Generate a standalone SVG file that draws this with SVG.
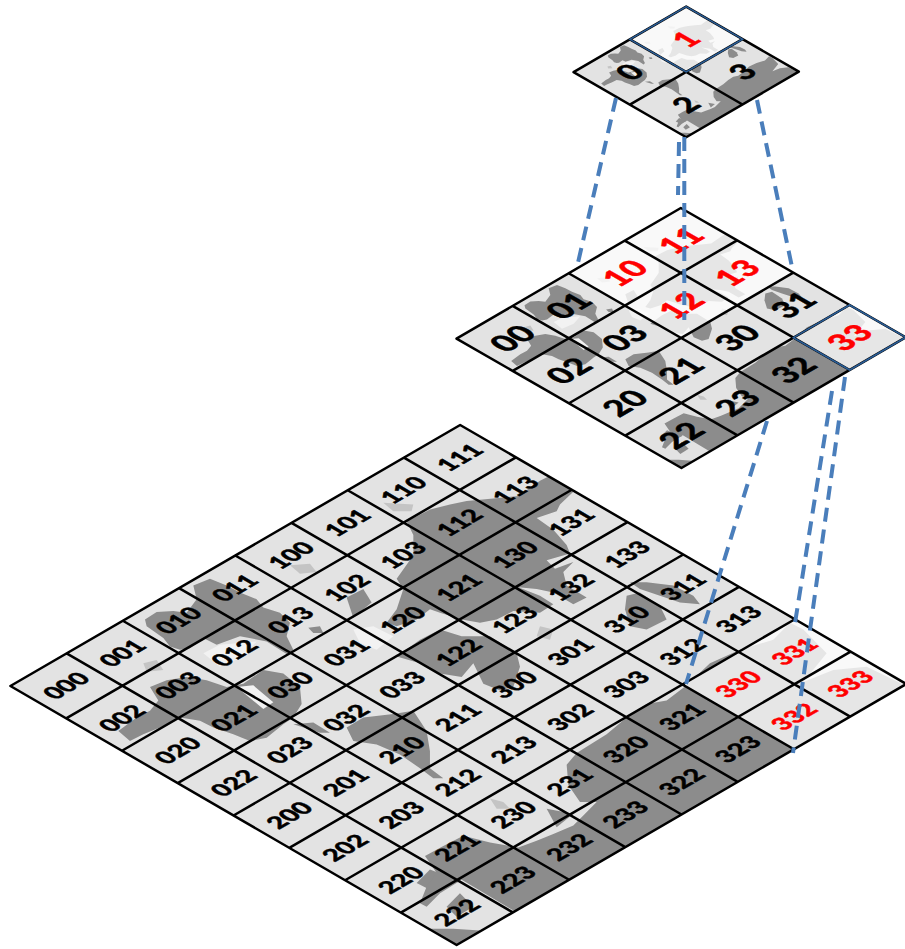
<svg xmlns="http://www.w3.org/2000/svg" width="905" height="949" viewBox="0 0 905 949">
<style>
text{font-family:Lato,"Open Sans","Liberation Sans",sans-serif;font-weight:900;text-anchor:middle;fill:#000;stroke:#000}
text.r{fill:#f00;stroke:#f00}
.l3 text{font-size:37px;stroke-width:.8}
.l2 text{font-size:98px;stroke-width:1.5}
.l1 text{font-size:184px;stroke-width:3}
.bg{fill:#e3e3e3}
.sel{fill:#fff;fill-opacity:.78}
.grid{fill:none;stroke:#000;stroke-width:2.5;vector-effect:non-scaling-stroke;stroke-linejoin:round}
.edge{fill:none;stroke:#2a5d96;stroke-width:1.6;vector-effect:non-scaling-stroke}
.land polygon{fill:#8c8c8c}
.land polygon.w{fill:#f2f2f2}
.land polygon.m{fill:#c4c4c4}
.dash{fill:none;stroke:#4a7ebb;stroke-width:4;stroke-dasharray:14 8}
</style>
<defs>
<clipPath id="clip"><polygon points="10.4,686 460.15,425 906.4,684 456.65,945"/></clipPath>
<g id="land" class="land" clip-path="url(#clip)">
<g transform="matrix(.3333 0 0 .338 0 420)">
<polygon points="580,490 630,470 680,490 720,510 770,530 790,555 840,570 870,600 860,640 880,680 865,695 800,655 720,640 650,665 610,645 570,675 540,680 510,670 490,645 440,610 435,590 470,568 520,565 560,570 590,530"/>
<polygon points="355,920 410,880 450,860 475,830 450,790 500,770 560,760 620,770 680,790 730,780 790,740 850,750 900,790 905,840 880,880 850,900 800,940 750,950 700,930 640,910 600,890 540,880 480,910 430,930 390,950"/>
<polygon class="w" points="710,790 760,785 820,835 790,855"/>
<polygon class="w" points="610,690 660,665 770,655 730,700 660,730"/>
<polygon points="880,900 940,895 990,925 960,925"/>
<polygon points="1040,910 1090,880 1180,870 1240,860 1280,920 1290,980 1290,1030 1330,1060 1300,1060 1260,1030 1200,990 1130,960 1060,950"/>
<polygon points="1040,525 1090,500 1115,540 1060,585"/>
<polygon points="925,615 960,610 970,630 940,630"/>
<polygon class="m" points="870,430 930,425 950,450 900,455"/>
<polygon class="m" points="1150,245 1240,250 1235,270 1180,270"/>
<polygon class="m" points="430,720 470,710 490,740 440,745"/>
<polygon class="w" points="1060,620 1120,610 1180,640 1130,680 1080,660"/>
<polygon points="1250,1370 1290,1330 1380,1365 1300,1395"/>
<polygon points="1300,1300 1380,1255 1380,1330"/>
<polygon points="1340,1440 1380,1400 1420,1440 1370,1470"/>
</g>
<g transform="matrix(.3333 0 0 .338 440 420)">
<polygon points="-130,470 -80,400 -80,340 -100,300 -30,265 30,250 80,240 160,232 235,225 300,180 330,165 400,212 360,250 350,270 290,290 340,325 380,370 390,395 320,415 345,440 400,420 370,450 380,490 440,525 400,545 340,510 290,500 235,495 300,520 340,545 300,570 220,565 170,590 120,600 65,590 0,570 -30,560 -70,590 -130,610 -160,600 -130,560 -110,500"/>
<polygon points="-130,700 -60,650 0,620 65,640 150,640 230,690 240,730 220,790 180,800 130,780 100,720 65,760 0,750 -60,720"/>
<polygon points="570,480 620,480 700,490 760,520 780,545 720,540 660,520 600,500"/>
<polygon points="560,520 600,510 660,550 680,590 620,620 570,610 555,560"/>
<polygon points="740,785 810,720 900,680 1000,650 1050,600 1090,620 1160,690 1090,775 1180,740 1280,730 1395,785 1060,985 400,1360 235,1460 65,1360 0,1400 -40,1440 -60,1430 -40,1380 -10,1340 -45,1290 10,1260 70,1230 150,1250 235,1265 290,1245 340,1225 400,1200 430,1170 470,1130 420,1130 385,1080 380,1020 410,985 500,930 560,880 620,840 680,830"/>
<polygon points="320,1150 400,1165 350,1205"/>
<polygon points="-40,1505 40,1505 120,1510 60,1560 -30,1520"/>
<polygon class="m" points="150,1120 190,1130 210,1150 170,1150"/>
<polygon class="m" points="300,610 340,620 330,650 290,640"/>
</g>
</g>
</defs>

<g id="tile-level-1">
<g transform="matrix(.1408 -.0819 .1408 .0814 573.55 72.1)"><rect class="bg" width="800" height="800"/></g>
<use href="#land" transform="matrix(.25 0 0 .25 571.6 -99.35)"/>
<g class="l1" transform="matrix(.1408 -.0819 .1408 .0814 573.55 72.1)">
<rect class="sel" x="400" width="400" height="400"/>
<path class="grid" d="M0 0H800V800H0ZM0 400H800M400 0V800"/>
<rect class="edge" x="400" width="400" height="400"/>
<text x="200" y="265">0</text><text class="r" x="600" y="265">1</text><text x="200" y="665">2</text><text x="600" y="665">3</text>
</g>
</g>

<g id="tile-level-2">
<g transform="matrix(.2804 -.1633 .2812 .1617 456.5 338.6)"><rect class="bg" width="800" height="800"/></g>
<use href="#land" transform="matrix(.5 0 0 .5 452 -4.5)"/>
<g class="l2" transform="matrix(.2804 -.1633 .2812 .1617 456.5 338.6)">
<rect class="sel" x="400" width="400" height="400"/>
<rect class="sel" x="600" y="600" width="200" height="200"/>
<path class="grid" d="M0 0H800V800H0ZM0 200H800M0 400H800M0 600H800M200 0V800M400 0V800M600 0V800"/>
<rect class="edge" x="600" y="600" width="200" height="200"/>
<text x="100" y="135">00</text><text x="300" y="135">01</text><text x="100" y="335">02</text><text x="300" y="335">03</text>
<text class="r" x="500" y="135">10</text><text class="r" x="700" y="135">11</text><text class="r" x="500" y="335">12</text><text class="r" x="700" y="335">13</text>
<text x="100" y="535">20</text><text x="300" y="535">21</text><text x="100" y="735">22</text><text x="300" y="735">23</text>
<text x="500" y="535">30</text><text x="700" y="535">31</text><text x="500" y="735">32</text><text class="r" x="700" y="735">33</text>
</g>
</g>

<g id="tile-level-3">
<g transform="matrix(.5622 -.3263 .5578 .3238 10.4 686)"><rect class="bg" width="800" height="800"/></g>
<use href="#land"/>
<g class="l3" transform="matrix(.5622 -.3263 .5578 .3238 10.4 686)">
<rect class="sel" x="600" y="600" width="200" height="200"/>
<path class="grid" d="M0 0H800V800H0ZM0 100H800M0 200H800M0 300H800M0 400H800M0 500H800M0 600H800M0 700H800M100 0V800M200 0V800M300 0V800M400 0V800M500 0V800M600 0V800M700 0V800"/>
<text x="50" y="63">000</text><text x="150" y="63">001</text><text x="50" y="163">002</text><text x="150" y="163">003</text>
<text x="250" y="63">010</text><text x="350" y="63">011</text><text x="250" y="163">012</text><text x="350" y="163">013</text>
<text x="50" y="263">020</text><text x="150" y="263">021</text><text x="50" y="363">022</text><text x="150" y="363">023</text>
<text x="250" y="263">030</text><text x="350" y="263">031</text><text x="250" y="363">032</text><text x="350" y="363">033</text>
<text x="450" y="63">100</text><text x="550" y="63">101</text><text x="450" y="163">102</text><text x="550" y="163">103</text>
<text x="650" y="63">110</text><text x="750" y="63">111</text><text x="650" y="163">112</text><text x="750" y="163">113</text>
<text x="450" y="263">120</text><text x="550" y="263">121</text><text x="450" y="363">122</text><text x="550" y="363">123</text>
<text x="650" y="263">130</text><text x="750" y="263">131</text><text x="650" y="363">132</text><text x="750" y="363">133</text>
<text x="50" y="463">200</text><text x="150" y="463">201</text><text x="50" y="563">202</text><text x="150" y="563">203</text>
<text x="250" y="463">210</text><text x="350" y="463">211</text><text x="250" y="563">212</text><text x="350" y="563">213</text>
<text x="50" y="663">220</text><text x="150" y="663">221</text><text x="50" y="763">222</text><text x="150" y="763">223</text>
<text x="250" y="663">230</text><text x="350" y="663">231</text><text x="250" y="763">232</text><text x="350" y="763">233</text>
<text x="450" y="463">300</text><text x="550" y="463">301</text><text x="450" y="563">302</text><text x="550" y="563">303</text>
<text x="650" y="463">310</text><text x="750" y="463">311</text><text x="650" y="563">312</text><text x="750" y="563">313</text>
<text x="450" y="663">320</text><text x="550" y="663">321</text><text x="450" y="763">322</text><text x="550" y="763">323</text>
<text class="r" x="650" y="663">330</text><text class="r" x="750" y="663">331</text><text class="r" x="650" y="763">332</text><text class="r" x="750" y="763">333</text>
</g>
</g>

<g id="connectors">
<line class="dash" x1="616" y1="98" x2="577" y2="267"/>
<line class="dash" x1="684.3" y1="137" x2="684.3" y2="320"/>
<line class="dash" x1="679" y1="142" x2="678" y2="195"/>
<line class="dash" x1="757" y1="100" x2="792" y2="267"/>
<line class="dash" x1="767" y1="421" x2="686" y2="684"/>
<line class="dash" x1="832" y1="391" x2="795" y2="623"/>
<line class="dash" x1="845" y1="377" x2="793" y2="753"/>
</g>
</svg>
